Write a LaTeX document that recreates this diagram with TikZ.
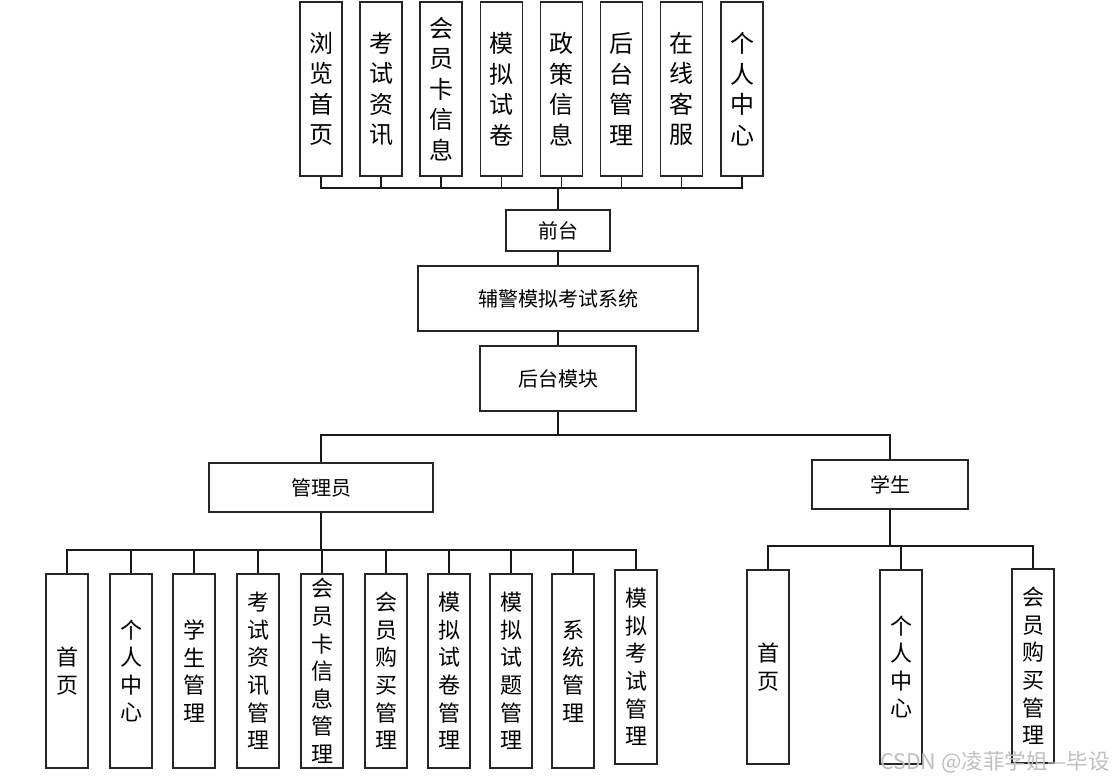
\documentclass[tikz,border=0pt]{standalone}
\usepackage{fontspec}
\setmainfont{Noto Sans CJK SC}
\begin{document}
\begin{tikzpicture}[x=1pt,y=-1pt,
  boxline/.style={draw=black!85,line width=1.3pt,fill=white,inner sep=0pt,align=center},
  topv/.style={boxline,minimum width=42pt,minimum height=174pt,font=\fontsize{24}{30.5}\selectfont},
  botv/.style={boxline,minimum width=42pt,minimum height=194pt,font=\fontsize{22}{27.6}\selectfont},
  hbox/.style={boxline,font=\fontsize{20}{24}\selectfont},
  conn/.style={draw=black!90,line width=1.6pt}]
\useasboundingbox (0,0) rectangle (1113,781);
% top row
\node[topv] (t1) at (321,89) {浏\\览\\首\\页};
\node[topv] (t2) at (381,89) {考\\试\\资\\讯};
\node[topv] (t3) at (441,89) {会\\员\\卡\\信\\息};
\node[topv] (t4) at (501.5,89) {模\\拟\\试\\卷};
\node[topv] (t5) at (561.5,89) {政\\策\\信\\息};
\node[topv] (t6) at (621.5,89) {后\\台\\管\\理};
\node[topv] (t7) at (681.5,89) {在\\线\\客\\服};
\node[topv] (t8) at (742,89) {个\\人\\中\\心};
\coordinate (topbus) at (558,188);
\node[hbox,minimum width=104pt,minimum height=41pt] (qt) at (558,230.5) {前台};
\node[hbox,minimum width=280pt,minimum height=65pt] (sys) at (558,298.5) {辅警模拟考试系统};
\node[hbox,minimum width=156pt,minimum height=65pt] (ht) at (558,378.5) {后台模块};
\coordinate (midbus) at (558,435);
\node[hbox,minimum width=224pt,minimum height=49pt] (gly) at (321,487.5) {管理员};
\node[hbox,minimum width=156pt,minimum height=49pt] (xs) at (890,484.5) {学生};
\coordinate (abus) at (321,550);
\coordinate (sbus) at (890,546);
% admin children
\node[botv] (a1) at (67,671) {首\\页};
\node[botv] (a2) at (131,671) {个\\人\\中\\心};
\node[botv] (a3) at (194,671) {学\\生\\管\\理};
\node[botv] (a4) at (258,671) {考\\试\\资\\讯\\管\\理};
\node[botv] (a5) at (322,671) {会\\员\\卡\\信\\息\\管\\理};
\node[botv] (a6) at (386,671) {会\\员\\购\\买\\管\\理};
\node[botv] (a7) at (449,671) {模\\拟\\试\\卷\\管\\理};
\node[botv] (a8) at (511,671) {模\\拟\\试\\题\\管\\理};
\node[botv] (a9) at (573,671) {系\\统\\管\\理};
\node[botv] (a10) at (636,667) {模\\拟\\考\\试\\管\\理};
% student children
\node[botv] (s1) at (768,667) {首\\页};
\node[botv] (s2) at (901,667) {个\\人\\中\\心};
\node[botv] (s3) at (1033,666) {会\\员\\购\\买\\管\\理};
% connectors
\foreach \n in {t1,t2,t3,t4,t5,t6,t7,t8} \draw[conn,line width=1.3pt] (\n.south) |- (topbus);
\draw[conn] (topbus) -- (qt.north);
\draw[conn] (qt.south) -- (sys.north);
\draw[conn] (sys.south) -- (ht.north);
\draw[conn] (ht.south) -- (midbus);
\draw[conn] (gly.north) |- (midbus) -| (xs.north);
\draw[conn] (gly.south) -- (abus);
\foreach \n in {a1,a2,a3,a4,a5,a6,a7,a8,a9,a10} \draw[conn] (\n.north) |- (abus);
\draw[conn] (xs.south) -- (sbus);
\foreach \n in {s1,s2,s3} \draw[conn] (\n.north) |- (sbus);
% watermark
\node[anchor=east,text=black!25,font=\fontsize{21.5}{24}\selectfont,inner sep=0pt] (wm) at (1110,762) {CSDN @凌菲学姐—毕设};
\end{tikzpicture}
\end{document}
